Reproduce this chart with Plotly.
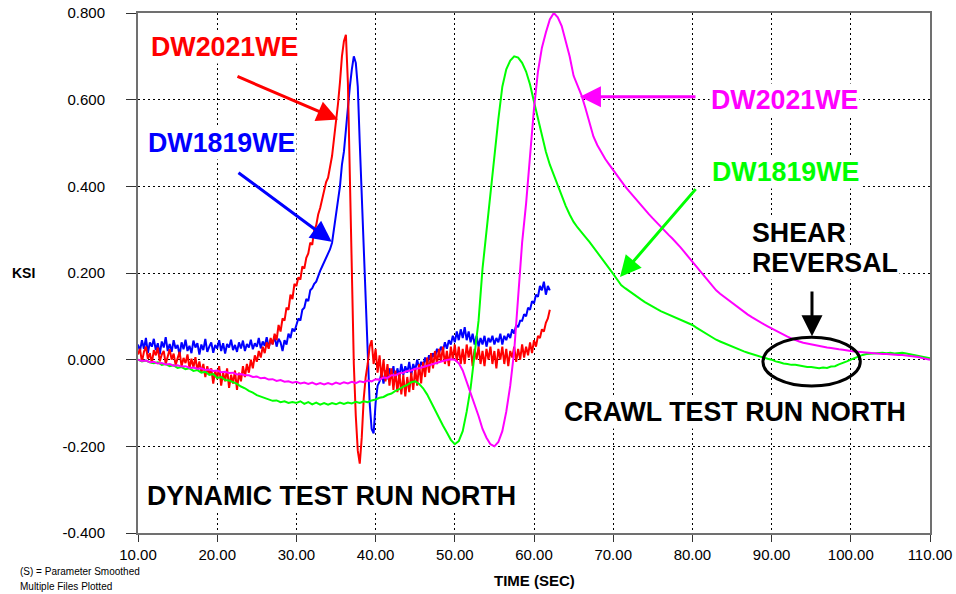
import numpy as np
import plotly.graph_objects as go

# ---------------- data ----------------
# dynamic test, sampled every 0.25 s from 10.00 s
dyn_start, dyn_step = 10.0, 0.25
red_dw2021 = [
    0.012, 0.025, -0.005, 0.018, 0.030, 0.002, 0.015, -0.008,
    0.022, 0.010, 0.028, -0.004, 0.012, 0.020, -0.010, 0.008,
    0.024, 0.000, 0.014, -0.012, 0.006, 0.018, -0.015, 0.004,
    -0.008, 0.012, -0.020, 0.002, -0.018, 0.006, -0.025, -0.004,
    -0.030, -0.010, -0.040, -0.015, -0.035, -0.020, -0.055, -0.025,
    -0.045, -0.015, -0.060, -0.030, -0.050, -0.020, -0.065, -0.035,
    -0.055, -0.025, -0.070, -0.030, -0.050, -0.015, -0.040, -0.010,
    -0.030, 0.000, -0.020, 0.010, -0.005, 0.020, 0.005, 0.030,
    0.015, 0.040, 0.025, 0.050, 0.035, 0.060, 0.045, 0.080,
    0.065, 0.095, 0.090, 0.120, 0.115, 0.150, 0.140, 0.175,
    0.170, 0.190, 0.185, 0.215, 0.210, 0.235, 0.245, 0.270,
    0.265, 0.300, 0.310, 0.335, 0.350, 0.370, 0.385, 0.410,
    0.420, 0.445, 0.470, 0.510, 0.545, 0.590, 0.640, 0.700,
    0.735, 0.750, 0.640, 0.430, 0.200, -0.010, -0.130, -0.210,
    -0.240, -0.180, -0.090, -0.040, -0.010, 0.030, 0.045, -0.010,
    0.025, -0.030, 0.010, -0.045, 0.000, -0.050, -0.010, -0.060,
    -0.020, -0.070, -0.025, -0.075, -0.030, -0.080, -0.035, -0.085,
    -0.040, -0.075, -0.030, -0.070, -0.020, -0.060, -0.010, -0.055,
    -0.005, -0.040, 0.005, -0.030, 0.015, -0.020, 0.020, -0.010,
    0.025, -0.005, 0.030, -0.010, 0.020, -0.015, 0.030, 0.000,
    0.035, -0.005, 0.030, -0.010, 0.025, -0.010, 0.035, 0.005,
    0.030, -0.015, 0.025, 0.000, 0.030, -0.010, 0.020, -0.015,
    0.025, 0.000, 0.030, -0.010, 0.020, -0.020, 0.025, 0.000,
    0.030, -0.010, 0.025, -0.015, 0.020, 0.005, 0.030, -0.005,
    0.025, 0.000, 0.035, 0.005, 0.030, 0.010, 0.040, 0.015,
    0.045, 0.030, 0.055, 0.050, 0.070, 0.065, 0.085, 0.095,
    0.115,
]
blue_dw1819 = [
    0.035, 0.020, 0.045, 0.025, 0.050, 0.015, 0.040, 0.030,
    0.048, 0.022, 0.038, 0.012, 0.042, 0.028, 0.052, 0.020,
    0.036, 0.018, 0.045, 0.026, 0.034, 0.010, 0.040, 0.024,
    0.046, 0.020, 0.032, 0.015, 0.044, 0.028, 0.038, 0.012,
    0.035, 0.022, 0.048, 0.018, 0.030, 0.040, 0.016, 0.034,
    0.026, 0.045, 0.020, 0.038, 0.014, 0.036, 0.028, 0.046,
    0.022, 0.034, 0.018, 0.040, 0.026, 0.044, 0.020, 0.036,
    0.028, 0.046, 0.024, 0.038, 0.030, 0.050, 0.026, 0.042,
    0.032, 0.052, 0.028, 0.046, 0.036, 0.054, 0.030, 0.048,
    0.040, 0.020, 0.045, 0.035, 0.060, 0.050, 0.072, 0.065,
    0.080, 0.095, 0.090, 0.115, 0.120, 0.140, 0.135, 0.160,
    0.165, 0.175, 0.180, 0.195, 0.205, 0.215, 0.225, 0.235,
    0.245, 0.255, 0.270, 0.300, 0.330, 0.370, 0.400, 0.450,
    0.480, 0.530, 0.590, 0.630, 0.670, 0.700, 0.685, 0.630,
    0.500, 0.380, 0.250, 0.100, 0.000, -0.100, -0.160, -0.170,
    -0.100, -0.060, -0.050, -0.030, -0.055, -0.025, -0.045, -0.020,
    -0.040, -0.015, -0.050, -0.020, -0.040, -0.010, -0.035, -0.015,
    -0.030, -0.005, -0.035, -0.010, -0.025, 0.000, -0.020, -0.005,
    -0.015, 0.005, -0.010, 0.010, 0.000, 0.015, 0.005, 0.025,
    0.015, 0.030, 0.020, 0.040, 0.025, 0.045, 0.035, 0.055,
    0.040, 0.065, 0.045, 0.070, 0.050, 0.075, 0.045, 0.065,
    0.040, 0.060, 0.035, 0.055, 0.030, 0.050, 0.035, 0.055,
    0.030, 0.050, 0.040, 0.055, 0.035, 0.050, 0.040, 0.060,
    0.035, 0.055, 0.045, 0.060, 0.050, 0.070, 0.060, 0.080,
    0.075, 0.090, 0.090, 0.105, 0.100, 0.120, 0.115, 0.135,
    0.130, 0.150, 0.145, 0.170, 0.160, 0.180, 0.150, 0.170,
    0.160,
]

# crawl test, sampled every 0.5 s from 10.0 s
crawl_start, crawl_step = 10.0, 0.5
green_dw1819 = [
    0.000, -0.004, -0.002, -0.006,
    -0.008, -0.006, -0.012, -0.010,
    -0.015, -0.013, -0.019, -0.017,
    -0.022, -0.020, -0.026, -0.024,
    -0.030, -0.028, -0.035, -0.033,
    -0.042, -0.040, -0.047, -0.048,
    -0.052, -0.056, -0.062, -0.066,
    -0.072, -0.076, -0.082, -0.085,
    -0.089, -0.091, -0.095, -0.094,
    -0.098, -0.096, -0.100, -0.098,
    -0.100, -0.096, -0.102, -0.098,
    -0.103, -0.099, -0.104, -0.100,
    -0.104, -0.100, -0.103, -0.099,
    -0.102, -0.099, -0.101, -0.097,
    -0.100, -0.096, -0.098, -0.094,
    -0.092, -0.088, -0.086, -0.081,
    -0.078, -0.072, -0.068, -0.062,
    -0.058, -0.052, -0.050, -0.056,
    -0.066, -0.080, -0.098, -0.118,
    -0.135, -0.152, -0.168, -0.185,
    -0.195, -0.188, -0.165, -0.120,
    -0.065, 0.010, 0.090, 0.210,
    0.300, 0.390, 0.480, 0.555,
    0.630, 0.670, 0.690, 0.700,
    0.697, 0.685, 0.665, 0.635,
    0.595, 0.555, 0.515, 0.480,
    0.450, 0.425, 0.400, 0.378,
    0.355, 0.335, 0.318, 0.305,
    0.293, 0.283, 0.272, 0.260,
    0.248, 0.235, 0.222, 0.210,
    0.198, 0.185, 0.172, 0.165,
    0.158, 0.151, 0.145, 0.139,
    0.133, 0.127, 0.122, 0.117,
    0.112, 0.108, 0.104, 0.100,
    0.097, 0.092, 0.088, 0.084,
    0.080, 0.074, 0.068, 0.063,
    0.058, 0.052, 0.046, 0.042,
    0.038, 0.034, 0.030, 0.026,
    0.022, 0.019, 0.016, 0.013,
    0.010, 0.007, 0.005, 0.002,
    0.000, -0.004, -0.006, -0.009,
    -0.010, -0.012, -0.012, -0.014,
    -0.015, -0.017, -0.017, -0.019,
    -0.020, -0.018, -0.019, -0.016,
    -0.015, -0.011, -0.008, -0.004,
    0.000, 0.004, 0.008, 0.011,
    0.013, 0.014, 0.015, 0.016,
    0.016, 0.015, 0.016, 0.014,
    0.015, 0.016, 0.014, 0.012,
    0.010, 0.008, 0.006, 0.004,
    0.003,
]
magenta_dw2021 = [
    0.000, -0.003, -0.002, -0.006,
    -0.005, -0.009, -0.008, -0.011,
    -0.010, -0.014, -0.013, -0.016,
    -0.015, -0.019, -0.018, -0.021,
    -0.020, -0.024, -0.023, -0.026,
    -0.025, -0.029, -0.028, -0.031,
    -0.030, -0.034, -0.033, -0.036,
    -0.036, -0.040, -0.039, -0.043,
    -0.042, -0.046, -0.045, -0.049,
    -0.047, -0.051, -0.050, -0.053,
    -0.051, -0.055, -0.053, -0.056,
    -0.053, -0.057, -0.054, -0.057,
    -0.054, -0.057, -0.053, -0.056,
    -0.052, -0.055, -0.051, -0.054,
    -0.050, -0.052, -0.048, -0.050,
    -0.045, -0.046, -0.041, -0.042,
    -0.036, -0.036, -0.031, -0.030,
    -0.026, -0.025, -0.021, -0.020,
    -0.017, -0.014, -0.011, -0.008,
    -0.006, -0.003, -0.001, 0.001,
    0.000, -0.008, -0.025, -0.050,
    -0.075, -0.100, -0.130, -0.160,
    -0.180, -0.195, -0.200, -0.190,
    -0.165, -0.120, -0.060, 0.020,
    0.140, 0.270, 0.360, 0.470,
    0.580, 0.665, 0.720, 0.755,
    0.785, 0.800, 0.790, 0.770,
    0.735, 0.700, 0.655, 0.632,
    0.610, 0.580, 0.548, 0.515,
    0.495, 0.478, 0.463, 0.450,
    0.437, 0.425, 0.412, 0.400,
    0.389, 0.378, 0.367, 0.356,
    0.346, 0.336, 0.326, 0.316,
    0.306, 0.297, 0.288, 0.279,
    0.270, 0.259, 0.248, 0.237,
    0.226, 0.214, 0.202, 0.191,
    0.180, 0.170, 0.160, 0.152,
    0.145, 0.137, 0.130, 0.123,
    0.116, 0.110, 0.104, 0.098,
    0.092, 0.087, 0.082, 0.077,
    0.072, 0.067, 0.062, 0.058,
    0.053, 0.049, 0.045, 0.042,
    0.039, 0.037, 0.035, 0.033,
    0.031, 0.030, 0.028, 0.027,
    0.025, 0.024, 0.023, 0.021,
    0.020, 0.019, 0.018, 0.017,
    0.016, 0.015, 0.015, 0.014,
    0.013, 0.013, 0.012, 0.012,
    0.011, 0.011, 0.010, 0.009,
    0.008, 0.006, 0.004, 0.002,
    0.000,
]

x_ticks = [10, 20, 30, 40, 50, 60, 70, 80, 90, 100, 110]
x_ticktext = ["10.00", "20.00", "30.00", "40.00", "50.00", "60.00",
              "70.00", "80.00", "90.00", "100.00", "110.00"]
y_ticks = [-0.4, -0.2, 0.0, 0.2, 0.4, 0.6, 0.8]
y_ticktext = ["-0.400", "-0.200", "0.000", "0.200", "0.400", "0.600", "0.800"]

t_dyn_red = dyn_start + dyn_step * np.arange(len(red_dw2021))
t_dyn_blue = dyn_start + dyn_step * np.arange(len(blue_dw1819))
t_crawl_green = crawl_start + crawl_step * np.arange(len(green_dw1819))
t_crawl_mag = crawl_start + crawl_step * np.arange(len(magenta_dw2021))

FONT = "Arial, Liberation Sans, sans-serif"

fig = go.Figure()
fig.add_trace(go.Scatter(x=t_dyn_blue, y=blue_dw1819, mode="lines",
                         line=dict(color="#0000FF", width=2), name="DW1819WE dynamic"))
fig.add_trace(go.Scatter(x=t_dyn_red, y=red_dw2021, mode="lines",
                         line=dict(color="#FF0000", width=2), name="DW2021WE dynamic"))
fig.add_trace(go.Scatter(x=t_crawl_green, y=green_dw1819, mode="lines",
                         line=dict(color="#00FF00", width=2), name="DW1819WE crawl"))
fig.add_trace(go.Scatter(x=t_crawl_mag, y=magenta_dw2021, mode="lines",
                         line=dict(color="#FF00FF", width=2), name="DW2021WE crawl"))


def label(text, x, y, color, xanchor="center"):
    return dict(text=text, x=x, y=y, xref="x", yref="y", showarrow=False,
                xanchor=xanchor, yanchor="middle",
                font=dict(family=FONT, size=26.8, color=color, weight="bold"),
                bgcolor="#FFFFFF", borderpad=1)


def arrow(x, y, ax, ay, color):
    return dict(text="", x=x, y=y, ax=ax, ay=ay, xref="x", yref="y",
                axref="x", ayref="y", showarrow=True, arrowhead=2,
                arrowsize=1.4, arrowwidth=3, arrowcolor=color, standoff=0)


annotations = [
    label("DW2021WE", 20.86, 0.722, "#FF0000"),
    label("DW1819WE", 20.6, 0.50, "#0000FF"),
    label("DW2021WE", 91.57, 0.60, "#FF00FF"),
    label("DW1819WE", 91.7, 0.434, "#00FF00"),
    label("SHEAR", 87.27, 0.2925, "#000000", xanchor="left"),
    label("REVERSAL", 87.27, 0.2231, "#000000", xanchor="left"),
    label("CRAWL TEST RUN NORTH", 85.38, -0.121, "#000000"),
    label("DYNAMIC TEST RUN NORTH", 34.43, -0.3155, "#000000"),
    arrow(35.25, 0.554, 22.37, 0.655, "#FF0000"),
    arrow(34.46, 0.272, 22.5, 0.434, "#0000FF"),
    arrow(65.8, 0.607, 80.58, 0.607, "#FF00FF"),
    arrow(70.86, 0.191, 80.58, 0.397, "#00FF00"),
    arrow(95.1, 0.054, 95.1, 0.161, "#000000"),
    dict(text="KSI", x=-0.1616, y=0.2, xref="paper", yref="y", showarrow=False,
         xanchor="left", yanchor="middle",
         font=dict(family=FONT, size=14, color="#000000", weight="bold")),
    dict(text="TIME (SEC)", x=0.5, y=-0.0905, xref="paper", yref="paper",
         showarrow=False, xanchor="center", yanchor="middle",
         font=dict(family=FONT, size=15, color="#000000", weight="bold")),
    dict(text="(S) = Parameter Smoothed", x=-0.1515, y=-0.0731, xref="paper",
         yref="paper", showarrow=False, xanchor="left", yanchor="middle",
         font=dict(family=FONT, size=10, color="#000000")),
    dict(text="Multiple Files Plotted", x=-0.1515, y=-0.102, xref="paper",
         yref="paper", showarrow=False, xanchor="left", yanchor="middle",
         font=dict(family=FONT, size=10, color="#000000")),
]

fig.update_layout(
    width=956, height=594,
    margin=dict(l=138, r=26, t=13, b=61, autoexpand=False),
    paper_bgcolor="#FFFFFF", plot_bgcolor="#FFFFFF",
    showlegend=False,
    font=dict(family=FONT, size=15, color="#000000"),
    annotations=annotations,
    shapes=[dict(type="circle", xref="x", yref="y", x0=88.9, x1=101.2,
                 y0=-0.061, y1=0.052, line=dict(color="#000000", width=3))],
)
fig.update_xaxes(
    range=[10, 110], tickvals=x_ticks, ticktext=x_ticktext, automargin=False,
    showgrid=True, gridcolor="#000000", gridwidth=1, griddash="2px,3px",
    showline=True, linecolor="#707070", linewidth=2, mirror=True,
    ticks="outside", ticklen=7, tickcolor="#333333", tickwidth=1,
    tickfont=dict(family=FONT, size=15, color="#000000"),
    zeroline=False,
)
fig.update_yaxes(
    range=[-0.4, 0.8], tickvals=y_ticks, ticktext=y_ticktext, automargin=False,
    showgrid=True, gridcolor="#000000", gridwidth=1, griddash="2px,3px",
    showline=True, linecolor="#707070", linewidth=2, mirror=True,
    ticks="outside", ticklen=10, tickcolor="#333333", tickwidth=1,
    tickfont=dict(family=FONT, size=15, color="#000000"),
    ticklabelstandoff=18,
    zeroline=False,
)

fig.write_html("out.html")
